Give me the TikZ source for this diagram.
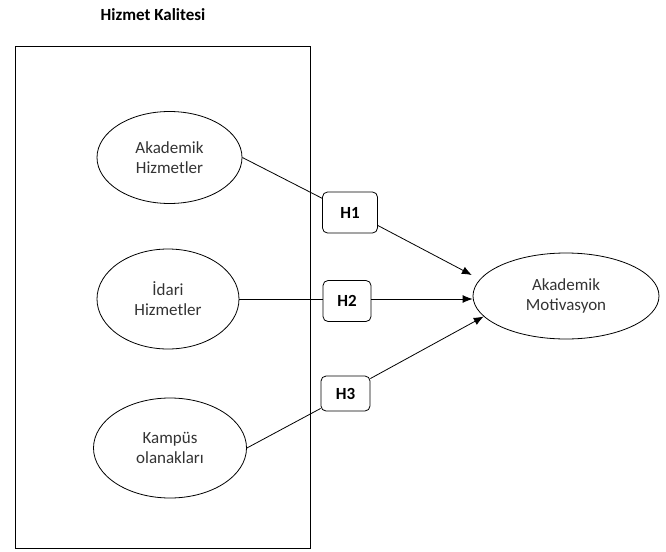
\documentclass[tikz,border=0pt]{standalone}
\usepackage{fontspec}
\setmainfont{Carlito}
\usetikzlibrary{shapes.geometric,arrows.meta}

\begin{document}
\begin{tikzpicture}[x=1pt, y=-1pt,
  construct/.style={draw, ellipse, line width=0.8pt, inner sep=0pt, align=center, text=black!80, font=\fontsize{17}{20}\selectfont},
  hyp/.style={draw, rounded corners=5pt, line width=0.8pt, inner sep=0pt, font=\bfseries\fontsize{17}{20}\selectfont},
  link/.style={line width=0.8pt},
  >={Latex[length=10pt, width=8pt]}]

\useasboundingbox (0,0) rectangle (666,551);

% title and the frame round the service quality constructs
\node[font=\bfseries\fontsize{17}{20}\selectfont] (title) at (153,15) {Hizmet Kalitesi};
\node[draw, line width=0.9pt, minimum width=295pt, minimum height=502pt, inner sep=0pt] (frame) at (162.5,297) {};


% the three dimensions
\node[construct, minimum width=145pt, minimum height=92pt] (akademik) at (169.5,157.5) {Akademik\\Hizmetler};
\node[construct, minimum width=142pt, minimum height=100pt] (idari) at (168,299) {İdari\\Hizmetler};
\node[construct, minimum width=153pt, minimum height=100pt] (kampus) at (170,448) {Kampüs\\olanakları};


% outcome
\node[construct, minimum width=186pt, minimum height=86pt] (motivasyon) at (566,296) {Akademik\\Motivasyon};


% hypotheses
\node[hyp, minimum width=55pt, minimum height=41pt] (h1) at (350,212.5) {H1};
\node[hyp, minimum width=48pt, minimum height=41pt] (h2) at (347,301) {H2};
\node[hyp, minimum width=49pt, minimum height=35pt] (h3) at (345.5,393.5) {H3};


%H1
\draw[link] (akademik.east) -- (h1.153);
\draw[link, ->, shorten >=9pt] (h1.-25) -- (motivasyon.169);

%H2
\draw[link] (idari.east) -- (idari.east -| h2.west);
\draw[link, ->] (idari.east -| h2.east) -- (idari.east -| motivasyon.west);

%H3
\draw[link] (kampus.east) -- (h3.211);
\draw[link, ->] (h3.31) -- (motivasyon.194);

\end{tikzpicture}
\end{document}
